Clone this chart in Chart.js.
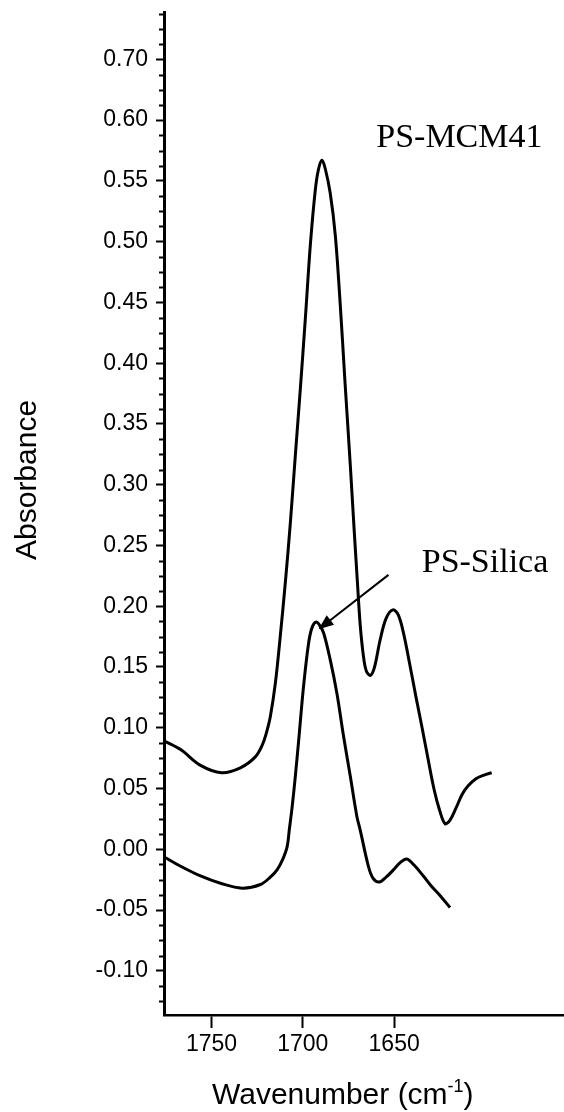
<!DOCTYPE html>
<html>
<head>
<meta charset="utf-8">
<script src="https://cdn.jsdelivr.net/npm/chart.js@4.4.1/dist/chart.umd.min.js"></script>
<style>
  html, body { margin: 0; padding: 0; background: #fff; }
  #wrap { width: 564px; height: 1112px; }
</style>
</head>
<body>
<div id="wrap"><canvas id="chart-ftir" width="564" height="1112"></canvas></div>
<script>
// PS-MCM41 spectrum (wavenumber cm-1, absorbance)
const mcmWavenumber = [1775.7, 1766.9, 1756.0, 1744.5, 1734.2, 1726.0, 1722.1, 1719.9, 1717.8, 1715.0, 1712.3, 1709.6, 1706.8, 1704.1, 1701.4, 1698.6, 1695.9, 1693.2, 1691.5, 1689.5, 1687.7, 1685.0, 1682.2, 1679.5, 1676.8, 1674.0, 1671.9, 1670.2, 1668.6, 1666.9, 1665.3, 1663.1, 1660.9, 1657.7, 1654.4, 1650.7, 1647.8, 1644.9, 1641.3, 1638.0, 1634.7, 1631.4, 1628.1, 1624.9, 1622.1, 1619.4, 1616.1, 1612.8, 1609.6, 1605.2, 1600.8, 1596.6];
const mcmAbsorbance = [0.089, 0.082, 0.069, 0.063, 0.067, 0.076, 0.086, 0.096, 0.109, 0.137, 0.176, 0.219, 0.269, 0.324, 0.378, 0.437, 0.497, 0.542, 0.559, 0.567, 0.560, 0.540, 0.505, 0.448, 0.382, 0.316, 0.263, 0.222, 0.185, 0.160, 0.147, 0.143, 0.149, 0.172, 0.190, 0.197, 0.193, 0.178, 0.151, 0.125, 0.100, 0.074, 0.049, 0.031, 0.021, 0.024, 0.034, 0.045, 0.052, 0.058, 0.061, 0.063];

// PS-Silica spectrum
const silicaWavenumber = [1775.1, 1766.9, 1756.0, 1745.1, 1733.2, 1723.2, 1717.8, 1714.1, 1711.2, 1708.6, 1707.4, 1705.9, 1704.1, 1702.3, 1699.6, 1696.8, 1694.8, 1692.6, 1690.7, 1688.6, 1685.0, 1681.3, 1677.7, 1674.0, 1670.4, 1668.6, 1664.1, 1661.5, 1658.1, 1654.4, 1650.4, 1646.7, 1643.1, 1639.1, 1634.0, 1629.8, 1624.9, 1619.4];
const silicaAbsorbance = [-0.007, -0.014, -0.022, -0.028, -0.032, -0.029, -0.023, -0.017, -0.009, 0.002, 0.016, 0.034, 0.060, 0.089, 0.134, 0.170, 0.183, 0.187, 0.184, 0.178, 0.156, 0.128, 0.093, 0.060, 0.027, 0.016, -0.014, -0.024, -0.027, -0.023, -0.017, -0.011, -0.008, -0.013, -0.022, -0.030, -0.038, -0.048];

const xTickValues = [1750, 1700, 1650];
const yTickValues = [-0.10, -0.05, 0.00, 0.05, 0.10, 0.15, 0.20, 0.25, 0.30, 0.35, 0.40, 0.45, 0.50, 0.55, 0.60, 0.65];
const yTickLabels = ["-0.10", "-0.05", "0.00", "0.05", "0.10", "0.15", "0.20", "0.25", "0.30", "0.35", "0.40", "0.45", "0.50", "0.55", "0.60", "0.70"];

// curve labels and the arrow, in data units
const curveLabels = [
  { text: "PS-MCM41", x: 1659.8, y: 0.578 },
  { text: "PS-Silica", x: 1634.9, y: 0.2285 },
];
const arrowFrom = { x: 1653.1, y: 0.2258 };
const arrowTo = { x: 1691.4, y: 0.181 };

const sans = "'Liberation Sans', Arial, sans-serif";
const serif = "'Liberation Serif', 'Times New Roman', serif";

const toPoints = (xs, ys) => xs.map((x, i) => ({ x, y: ys[i] }));

const extrasPlugin = {
  id: "extras",
  afterDraw(chart) {
    const { ctx, chartArea } = chart;
    const xs = chart.scales.x;
    const ys = chart.scales.y;
    ctx.save();

    // minor ticks on the y axis
    ctx.strokeStyle = "#000";
    ctx.lineWidth = 2;
    const step = 0.0125;
    for (let k = Math.ceil(ys.min / step); k <= Math.floor(ys.max / step); k++) {
      if (k % 4 === 0) continue;
      const py = Math.round(ys.getPixelForValue(k * step)) + 0.5;
      ctx.beginPath();
      ctx.moveTo(chartArea.left - 5, py);
      ctx.lineTo(chartArea.left, py);
      ctx.stroke();
    }

    // curve labels
    ctx.fillStyle = "#000";
    ctx.font = "34px " + serif;
    ctx.textAlign = "left";
    ctx.textBaseline = "alphabetic";
    curveLabels.forEach((l) => {
      ctx.fillText(l.text, xs.getPixelForValue(l.x), ys.getPixelForValue(l.y));
    });

    // arrow
    const x0 = xs.getPixelForValue(arrowFrom.x), y0 = ys.getPixelForValue(arrowFrom.y);
    const x1 = xs.getPixelForValue(arrowTo.x), y1 = ys.getPixelForValue(arrowTo.y);
    const ang = Math.atan2(y1 - y0, x1 - x0);
    const headLen = 15, headHalf = 6;
    ctx.lineWidth = 2;
    ctx.beginPath();
    ctx.moveTo(x0, y0);
    ctx.lineTo(x1 - Math.cos(ang) * headLen * 0.8, y1 - Math.sin(ang) * headLen * 0.8);
    ctx.stroke();
    ctx.beginPath();
    ctx.moveTo(x1, y1);
    ctx.lineTo(x1 - Math.cos(ang) * headLen - Math.sin(ang) * headHalf, y1 - Math.sin(ang) * headLen + Math.cos(ang) * headHalf);
    ctx.lineTo(x1 - Math.cos(ang) * headLen + Math.sin(ang) * headHalf, y1 - Math.sin(ang) * headLen - Math.cos(ang) * headHalf);
    ctx.closePath();
    ctx.fill();

    // y axis title
    ctx.save();
    ctx.font = "30px " + sans;
    ctx.translate(36, 560);
    ctx.rotate(-Math.PI / 2);
    ctx.fillText("Absorbance", 0, 0);
    ctx.restore();

    // x axis title with superscript
    let tx = 212;
    const base = 1104;
    ctx.font = "30px " + sans;
    const main = "Wavenumber (cm";
    ctx.fillText(main, tx, base);
    tx += ctx.measureText(main).width;
    ctx.font = "18px " + sans;
    ctx.fillText("-1", tx, base - 12);
    tx += ctx.measureText("-1").width;
    ctx.font = "30px " + sans;
    ctx.fillText(")", tx, base);

    ctx.restore();
  },
};

new Chart(document.getElementById("chart-ftir"), {
  type: "line",
  data: {
    datasets: [
      {
        label: "PS-MCM41",
        data: toPoints(mcmWavenumber, mcmAbsorbance),
        borderColor: "#000",
        borderWidth: 3,
        pointRadius: 0,
        tension: 0.35,
      },
      {
        label: "PS-Silica",
        data: toPoints(silicaWavenumber, silicaAbsorbance),
        borderColor: "#000",
        borderWidth: 3,
        pointRadius: 0,
        tension: 0.35,
      },
    ],
  },
  options: {
    responsive: false,
    devicePixelRatio: 1,
    animation: false,
    layout: { padding: { top: 12, right: 0, left: 0, bottom: 0 } },
    scales: {
      x: {
        type: "linear",
        reverse: true,
        min: 1557,
        max: 1776,
        afterBuildTicks: (scale) => { scale.ticks = xTickValues.map((v) => ({ value: v })); },
        afterFit: (scale) => { scale.height = 97; scale.paddingLeft = 0; scale.paddingRight = 0; },
        border: { display: true, color: "#000", width: 2.5 },
        grid: { drawOnChartArea: false, drawTicks: true, tickLength: 13, tickWidth: 2, tickColor: "#000" },
        ticks: { color: "#000", font: { family: sans, size: 23 }, padding: 3, maxRotation: 0, callback: (v) => String(v) },
      },
      y: {
        type: "linear",
        min: -0.1364,
        max: 0.689,
        afterBuildTicks: (scale) => { scale.ticks = yTickValues.map((v) => ({ value: v })); },
        afterFit: (scale) => { scale.width = 164; scale.paddingTop = 0; scale.paddingBottom = 0; },
        border: { display: true, color: "#000", width: 3 },
        grid: { drawOnChartArea: false, drawTicks: true, tickLength: 8, tickWidth: 2, tickColor: "#000" },
        ticks: { color: "#000", font: { family: sans, size: 23 }, padding: 8, callback: (v, i) => yTickLabels[i] },
      },
    },
    plugins: {
      legend: { display: false },
      tooltip: { enabled: false },
    },
  },
  plugins: [extrasPlugin],
});
</script>
</body>
</html>
